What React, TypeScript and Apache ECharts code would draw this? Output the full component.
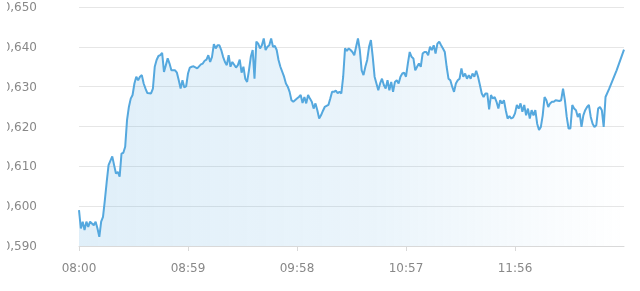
import React, { useEffect, useRef } from "react";
import * as echarts from "echarts";

// minutes after 08:00
const minutes: number[] = [
  0, 1, 2, 3, 4, 5, 6, 8, 9, 10, 11, 12, 13, 14, 15, 16, 18, 19, 20, 21, 22, 23, 24, 25, 26, 27, 28, 29, 30,
  31, 32, 33, 34, 35, 36, 37, 39, 40, 41, 42, 43, 44, 45, 46, 47, 48, 49, 50, 52, 53, 54, 55, 56, 57, 58, 59,
  60, 61, 62, 64, 65, 66, 67, 68, 69, 70, 71, 72, 73, 74, 75, 76, 77, 78, 79, 80, 81, 82, 83, 85, 86, 87, 88,
  89, 90, 91, 92, 93, 94, 95, 96, 97, 98, 99, 100, 101, 102, 103, 104, 105, 106, 107, 108, 109, 111, 112, 113,
  114, 115, 116, 118, 119, 120, 121, 122, 123, 124, 125, 126, 127, 128, 129, 130, 131, 132, 133, 135, 136, 137,
  138, 139, 140, 141, 142, 143, 144, 145, 146, 147, 148, 149, 150, 151, 152, 153, 154, 155, 156, 157, 158, 159,
  160, 161, 162, 163, 164, 165, 166, 167, 168, 169, 170, 171, 172, 173, 174, 175, 176, 177, 178, 179, 180, 181,
  182, 183, 184, 185, 186, 187, 188, 189, 190, 191, 192, 193, 194, 195, 196, 197, 198, 199, 200, 201, 202, 203,
  204, 205, 206, 207, 208, 209, 210, 211, 212, 213, 214, 215, 216, 217, 218, 219, 220, 221, 222, 223, 224, 225,
  226, 227, 228, 229, 230, 231, 232, 233, 234, 235, 236, 237, 238, 239, 240, 241, 242, 243, 244, 245, 246, 247,
  248, 249, 250, 251, 252, 253, 254, 255, 256, 257, 258, 260, 261, 262, 263, 264, 265, 266, 267, 268, 269, 270,
  271, 272, 273, 274, 275, 276, 277, 278, 279, 280, 281, 282, 283, 284, 285, 287, 291, 295,
];

const prices: number[] = [
  0.599, 0.5944, 0.5961, 0.594, 0.5961, 0.5948, 0.5961, 0.5952, 0.5961, 0.5944, 0.5923, 0.5961, 0.5973, 0.6015,
  0.6061, 0.6103, 0.6125, 0.6103, 0.6082, 0.6086, 0.6074, 0.6132, 0.6134, 0.6149, 0.6216, 0.6249, 0.627, 0.6279,
  0.6308, 0.6325, 0.6316, 0.6325, 0.6329, 0.6308, 0.6295, 0.6284, 0.6283, 0.6295, 0.635, 0.6367, 0.6377, 0.6379,
  0.6385, 0.6337, 0.6354, 0.6371, 0.6358, 0.6341, 0.6341, 0.6335, 0.6316, 0.6295, 0.6316, 0.6298, 0.6301, 0.6333,
  0.6348, 0.635, 0.6351, 0.6346, 0.6351, 0.6356, 0.6358, 0.6365, 0.6368, 0.6379, 0.6362, 0.6375, 0.6407, 0.6396,
  0.6404, 0.6404, 0.6392, 0.6375, 0.6362, 0.6354, 0.6379, 0.635, 0.6362, 0.6348, 0.6354, 0.6368, 0.6335, 0.635,
  0.632, 0.6312, 0.6341, 0.6375, 0.6392, 0.632, 0.6413, 0.6408, 0.6396, 0.6404, 0.6421, 0.6392, 0.64, 0.6404,
  0.6421, 0.64, 0.6402, 0.6392, 0.6367, 0.635, 0.6325, 0.6308, 0.63, 0.6287, 0.6266, 0.6262, 0.627, 0.6274,
  0.6279, 0.6259, 0.6274, 0.6258, 0.6279, 0.627, 0.6262, 0.6245, 0.6258, 0.6241, 0.622, 0.6228, 0.6239, 0.6249,
  0.6254, 0.627, 0.6287, 0.6287, 0.629, 0.6284, 0.6287, 0.6283, 0.6325, 0.6396, 0.639, 0.6396, 0.6392, 0.6387,
  0.6379, 0.64, 0.6421, 0.6392, 0.6341, 0.6329, 0.635, 0.6367, 0.64, 0.6417, 0.6375, 0.6325, 0.6308, 0.6291,
  0.6308, 0.632, 0.6304, 0.6295, 0.6316, 0.6291, 0.6312, 0.6287, 0.6312, 0.6316, 0.6308, 0.6325, 0.6333, 0.6335,
  0.6325, 0.6358, 0.6387, 0.6375, 0.6371, 0.6341, 0.635, 0.6358, 0.635, 0.6383, 0.6387, 0.6387, 0.6379, 0.64,
  0.6392, 0.6404, 0.6383, 0.6408, 0.6413, 0.6404, 0.6396, 0.6387, 0.635, 0.632, 0.6316, 0.63, 0.6287, 0.6308,
  0.6316, 0.632, 0.6346, 0.6325, 0.6333, 0.632, 0.6329, 0.632, 0.6333, 0.6325, 0.634, 0.6325, 0.6304, 0.6283,
  0.6274, 0.6283, 0.6283, 0.6243, 0.6279, 0.627, 0.6274, 0.6262, 0.6245, 0.6266, 0.6258, 0.6266, 0.6241, 0.622,
  0.6226, 0.622, 0.6223, 0.6233, 0.6254, 0.6245, 0.6258, 0.6237, 0.6254, 0.6228, 0.6245, 0.622, 0.6241, 0.6228,
  0.6241, 0.6207, 0.6191, 0.6199, 0.6228, 0.6274, 0.6266, 0.6249, 0.6258, 0.6262, 0.6262, 0.6266, 0.6264, 0.6266,
  0.6295, 0.6266, 0.6224, 0.6195, 0.6195, 0.6254, 0.6245, 0.6241, 0.6224, 0.6233, 0.6199, 0.6228, 0.6241, 0.6249,
  0.6254, 0.6224, 0.6207, 0.6199, 0.6203, 0.6245, 0.6249, 0.6241, 0.6199, 0.6274, 0.6295, 0.6341, 0.6393,
];

const startHour = 8;
const xMax = 295;
const xStep = 59;
const yMin = 0.59;
const yMax = 0.65;
const yStep = 0.01;

function fmtTime(m: number): string {
  const t = startHour * 60 + Math.round(m);
  const h = Math.floor(t / 60);
  const mm = t % 60;
  return String(h).padStart(2, "0") + ":" + String(mm).padStart(2, "0");
}

export default function App() {
  const ref = useRef<HTMLDivElement>(null);
  useEffect(() => {
    if (!ref.current) return;
    const chart = echarts.init(ref.current, null, { renderer: "svg" });
    const data = minutes.map((m, i) => [m, prices[i]]);
    chart.setOption({
      animation: false,
      textStyle: { fontFamily: "DejaVu Sans" },
      grid: {
        left: 72,
        right: 16,
        top: 7,
        bottom: 45,
        containLabel: false,
        outerBoundsMode: "none",
      },
      xAxis: {
        type: "value",
        min: 0,
        max: xMax,
        interval: xStep,
        axisLine: { show: true, lineStyle: { color: "#d9d9d9", width: 1 } },
        axisTick: { show: true, length: 5, lineStyle: { color: "#d9d9d9" } },
        splitLine: { show: false },
        axisLabel: {
          color: "#888",
          fontSize: 12,
          fontFamily: "DejaVu Sans",
          margin: 16,
          showMaxLabel: false,
          formatter: (v: number) => fmtTime(v),
        },
      },
      yAxis: {
        type: "value",
        min: yMin,
        max: yMax,
        interval: yStep,
        axisLine: { show: false },
        axisTick: { show: false },
        splitLine: { lineStyle: { color: "#e6e6e6", width: 1 } },
        axisLabel: {
          color: "#888",
          fontSize: 12,
          fontFamily: "DejaVu Sans",
          margin: 42,
          formatter: (v: number) => v.toFixed(3).replace(".", ","),
        },
      },
      series: [
        {
          type: "line",
          data,
          symbol: "none",
          lineStyle: { color: "#55a8de", width: 2 },
          itemStyle: { color: "#55a8de" },
          areaStyle: {
            color: new echarts.graphic.LinearGradient(0, 0, 1, 0, [
              { offset: 0, color: "rgba(85,168,222,0.26)" },
              { offset: 0.55, color: "rgba(85,168,222,0.17)" },
              { offset: 1, color: "rgba(85,168,222,0)" },
            ]),
          },
        },
      ],
    });
    return () => chart.dispose();
  }, []);
  return (
    <div
      ref={ref}
      style={{ position: "fixed", left: 7, top: 0, width: 633, height: 291 }}
    />
  );
}
